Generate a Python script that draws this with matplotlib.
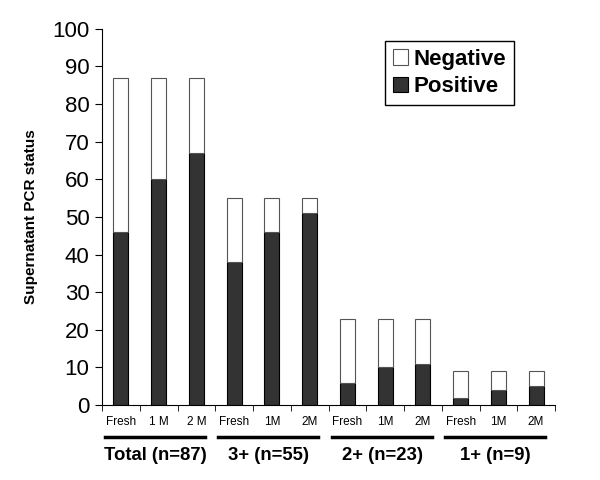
import matplotlib
matplotlib.use("Agg")
import matplotlib.pyplot as plt
import matplotlib.transforms as mtransforms
import numpy as np

plt.rcParams['font.family'] = ['Liberation Sans', 'DejaVu Sans']

tick_labels = ["Fresh", "1 M", "2 M", "Fresh", "1M", "2M",
               "Fresh", "1M", "2M", "Fresh", "1M", "2M"]
groups = ["Total (n=87)", "3+ (n=55)", "2+ (n=23)", "1+ (n=9)"]
totals = [87, 87, 87, 55, 55, 55, 23, 23, 23, 9, 9, 9]
positive = [46, 60, 67, 38, 46, 51, 6, 10, 11, 2, 4, 5]
negative = [t - p for t, p in zip(totals, positive)]


def main():
    fig = plt.figure(figsize=(6, 4.8), dpi=100)
    ax = fig.add_axes([0.17, 0.156, 0.755, 0.784])
    x = np.arange(len(totals))

    ax.bar(x, positive, width=0.4, color='#333333', edgecolor='black',
           linewidth=0.8, label="Positive")
    ax.bar(x, negative, width=0.4, bottom=positive, color='white',
           edgecolor='#555555', linewidth=0.8, label="Negative")

    ax.set_xlim(-0.5, 11.5)
    ax.set_ylim(0, 100)
    ax.set_yticks(range(0, 101, 10))
    ax.tick_params(axis='y', labelsize=16, direction='out', length=5, pad=4)

    ax.set_xticks(np.arange(-0.5, 12, 1), minor=True)
    ax.set_xticks(x)
    ax.set_xticklabels(tick_labels, fontsize=8.5)
    ax.tick_params(axis='x', which='major', length=0, pad=8)
    ax.tick_params(axis='x', which='minor', length=4, direction='out')

    for s in ['top', 'right']:
        ax.spines[s].set_visible(False)

    ax.set_ylabel("Supernatant PCR status", fontsize=11, fontweight='bold',
                  labelpad=10)

    trans = mtransforms.blended_transform_factory(ax.transData, ax.transAxes)
    for g, name in enumerate(groups):
        x0 = g * 3 - 0.42
        x1 = g * 3 + 2.23
        ax.plot([x0, x1], [-0.085, -0.085], color='black', linewidth=2.5,
                transform=trans, clip_on=False)
        ax.text(g * 3 + 0.92, -0.135, name, transform=trans, ha='center',
                va='center', fontsize=13.3, fontweight='bold')

    h, l = ax.get_legend_handles_labels()
    ax.legend(h[::-1], l[::-1], loc='upper right', bbox_to_anchor=(0.91, 0.968),
              borderaxespad=0, prop={'size': 16, 'weight': 'bold'},
              fancybox=False, edgecolor='black', framealpha=1,
              handlelength=0.7, handleheight=0.7, handletextpad=0.25,
              borderpad=0.35, labelspacing=0.3)

    fig.savefig("out.png")


if __name__ == '__main__':
    main()
